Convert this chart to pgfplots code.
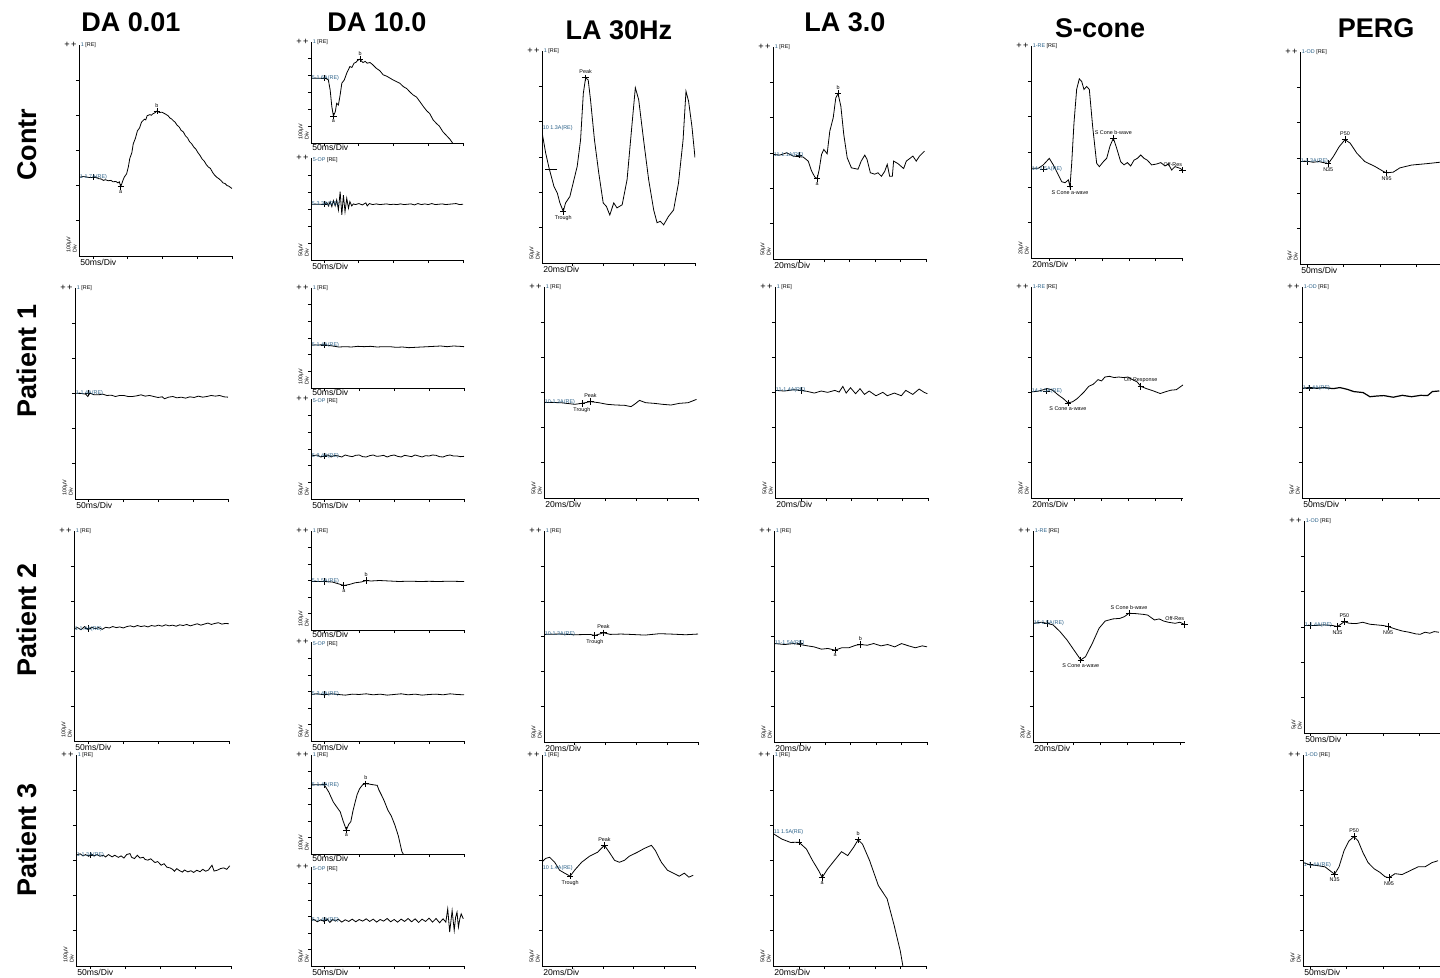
\documentclass[border=0pt]{standalone}
\usepackage{fontspec}
\setmainfont{Liberation Sans}
\usepackage{pgfplots}
\pgfplotsset{compat=1.18}
\newdimen\pxu \pxu=0.5pt
\newcommand\fT{\fontsize{2.7pt}{3.1pt}\selectfont}
\newcommand\fX{\fontsize{4.3pt}{5pt}\selectfont}
\newcommand\fP{\fontsize{4.6pt}{5pt}\selectfont}
\newcommand\fH{\fontsize{13.5pt}{16pt}\selectfont\bfseries}
\definecolor{lblue}{RGB}{40,95,135}
\newcommand\setY[2]{%
 \pgfmathsetmacro\yMin{#1}%
 \pgfmathsetmacro\yA{#1+#2}%
 \pgfmathsetmacro\yB{#1+2*#2}%
 \pgfmathsetmacro\yC{#1+3*#2}%
 \pgfmathsetmacro\yD{#1+4*#2}%
 \pgfmathsetmacro\yE{#1+5*#2}%
 \pgfmathsetmacro\yMax{#1+6*#2}}
\pgfplotsset{
 erg/.style n args={6}{at={(#1*\pxu,-#2*\pxu)}, width=#3*\pxu, height=#4*\pxu, xmin=#5, xmax=#6,
  anchor=south west, scale only axis, axis lines=left,
  axis line style={-, line width=0.45pt, black},
  tick style={black, line width=0.4pt}, tick align=outside, major tick length=1.6pt,
  xticklabel=\empty, yticklabel=\empty, clip mode=individual,
  ymin=\yMin, ymax=\yMax, ytick={\yA,\yB,\yC,\yD,\yE}},
 gdeco/.style n args={5}{extra description/.code={
  \node[font=\fP, anchor=east, inner sep=0pt] at ([xshift=-2*\pxu]rel axis cs:0,1) {+\,+};
  \node[font=\fT, anchor=west, inner sep=0pt] at ([xshift=1.5*\pxu,yshift=#4*\pxu]rel axis cs:0,1) {#1};
  \node[font=\fT, anchor=south west, inner sep=0pt, rotate=90, align=left] at ([xshift=-2*\pxu,yshift=3*\pxu]rel axis cs:0,0) {#2\\Div};
  \node[font=\fX, anchor=north west, inner sep=0pt] at ([xshift=1*\pxu,yshift=#5*\pxu]rel axis cs:0,0) {#3};
 }},
 deco/.style n args={3}{gdeco={#1}{#2}{#3}{0}{-3}},
 decoT/.style n args={3}{gdeco={#1}{#2}{#3}{0}{-0.8}},
 decoB/.style n args={3}{gdeco={#1}{#2}{#3}{-2}{-3}},
 tr/.style={black, line width=0.4pt, mark=none},
}
\newcommand\mk[2]{\addplot[only marks, mark=+, mark size=1.6pt, black, mark options={line width=0.35pt}] coordinates {(#1,#2)};}
\newcommand\ab[3]{\node[font=\fT, anchor=south, inner sep=0pt] at ([yshift=3.5*\pxu]axis cs:#1,#2) {#3};}
\newcommand\be[3]{\node[font=\fT, anchor=north, inner sep=0pt] at ([yshift=-3.5*\pxu]axis cs:#1,#2) {#3};}
\newcommand\bl[3]{\node[font=\fT, text=lblue, anchor=west, inner sep=0pt] at ([xshift=0.5*\pxu]axis cs:#1,#2) {#3};}
\newcommand\rl[3]{\node[font=\fT, anchor=south east, inner sep=0pt] at ([yshift=3*\pxu]axis cs:#1,#2) {#3};}
\newcommand\ch[1]{{\color{lblue}#1}}

\begin{document}
\begin{tikzpicture}
\useasboundingbox (0,0) rectangle (1440*\pxu,-978*\pxu);
% titles
\node[font=\fH] at (131*\pxu,-22*\pxu) {DA 0.01};
\node[font=\fH] at (377*\pxu,-22*\pxu) {DA 10.0};
\node[font=\fH] at (619*\pxu,-30*\pxu) {LA 30Hz};
\node[font=\fH] at (845*\pxu,-22*\pxu) {LA 3.0};
\node[font=\fH] at (1100*\pxu,-28*\pxu) {S-cone};
\node[font=\fH] at (1376*\pxu,-28*\pxu) {PERG};
\node[font=\fH, rotate=90] at (27*\pxu,-145*\pxu) {Contr};
\node[font=\fH, rotate=90] at (27*\pxu,-361*\pxu) {Patient 1};
\node[font=\fH, rotate=90] at (27*\pxu,-620*\pxu) {Patient 2};
\node[font=\fH, rotate=90] at (27*\pxu,-840*\pxu) {Patient 3};

%================ ROW 1 (Contr) ================
\setY{-224}{100}
\begin{axis}[erg={79}{256}{153}{211}{-20}{200}, xtick={0,50,100,150,200}, deco={\ch{1} [RE]}{100µV}{50ms/Div}]
\addplot[tr] coordinates {(-19,0)(-14,2)(-10,1)(-5,-1)(0.5,-1)(4,1)(8,-4)(12,-5)(15,-9)(18,-7)(22,-10)(26,-9)(29,-13)(33,-12)(36,-16)(38,-13)(40,-27)(43,-10)(45,0)(48.5,10)(51,30)(53,53)(56,70)(58,95)(61,110)(64,132)(67,140)(70,157)(74,165)(76,163)(78,175)(82,178)(84,176)(86,180)(89,183)(92,188)(96,184)(99,185)(104,180)(108,175)(111,168)(113,166)(116,160)(118,157)(121,148)(124,143)(127,133)(130,129)(133,118)(136,112)(139,101)(142,95)(145,86)(148,80)(151,70)(154,62)(157,52)(160,46)(163,36)(166,29)(169,25)(172,14)(175,6)(178,0)(181,-4)(184,-9)(187,-16)(190,-18)(193,-24)(195,-25)(200,-32)};
\mk{0}{0}\mk{40}{-27}\mk{92}{188}
\be{40}{-27}{a}\ab{92}{188}{b}\bl{-20}{0}{1-1.7A(RE)}
\end{axis}

\setY{-385}{100}
\begin{axis}[erg={311}{143}{152}{101}{-19}{200}, xtick={0,50,100,150,200}, decoT={\ch{1} [RE]}{100µV}{50ms/Div}]
\addplot[tr] coordinates {(-19,0)(1.4,0)(6,-10)(8.6,-70)(11,-169)(13.3,-225)(16,-199)(18,-149)(20.5,-159)(23,-99)(25.4,-30)(29,-10)(32.5,30)(37,69)(40,64)(43,89)(46,95)(48,105)(51.6,113)(54,100)(56,93)(59,100)(62,89)(66,93)(70,80)(75,59)(80,45)(85,20)(90,12)(95,0)(99,-10)(104,-20)(109,-30)(114,-50)(119,-62)(124,-84)(128,-99)(133,-112)(138,-140)(143,-169)(148,-195)(152,-210)(157,-248)(162,-270)(166,-285)(171,-318)(176,-340)(181,-362)(185,-385)};
\mk{0}{0}\mk{13.3}{-225}\mk{51.6}{113}
\be{13.3}{-225}{a}\ab{51.6}{113}{b}\bl{-19}{0}{5-1.6A(RE)}
\end{axis}

\setY{-164}{50}
\begin{axis}[erg={311}{260}{152}{102}{-19}{200}, xtick={0,50,100,150,200}, decoB={\ch{5-OP} [RE]}{50µV}{50ms/Div}]
\addplot[tr] coordinates {(-19,0)(-1,0)(3.8,4.7)(6.2,-5)(8.6,7.8)(11,-7)(13.3,10.6)(15.8,-5)(18,12.7)(20.5,-16.7)(23,37)(25.4,-31)(27.7,27)(30,-22)(32.5,17.6)(35,-11.8)(37,7.8)(39.7,-5)(42,1)(45,-1)(50,2)(55,-2)(60,4)(62,-5)(65,2)(70,-1)(75,1)(80,-1)(85,0)(90,1)(95,-1)(100,0)(105,-1)(110,1)(115,-1)(120,0)(125,1)(130,-2)(135,2)(140,-1)(145,1)(150,-1)(155,2)(160,-1)(165,0)(170,1)(175,-1)(180,0)(185,1)(190,2)(195,-1)(200,0)};
\mk{0}{0}\bl{-19}{0}{5-3.3A(RE)}
\end{axis}

\setY{-132}{50}
\begin{axis}[erg={542}{263}{153}{212}{-20}{80}, xtick={0,20,40,60,80}, deco={\ch{1} [RE]}{50µV}{20ms/Div}]
\addplot[tr] coordinates {(-19.7,49.6)(-17.6,23.6)(-15.4,2.4)(-12.2,-23.6)(-10,-33)(-8.3,-47)(-6.1,-59)(-4.6,-47)(-1.8,-38)(0.9,-14)(3,4.7)(5.2,42)(7,108)(8.5,130)(10.2,127)(11.7,99)(14.3,42)(17.1,-4.7)(20,-47)(22.1,-52)(24.3,-64)(26.9,-47)(29,-54)(32.4,-49.6)(35.6,-14)(38.9,66)(41,116)(43.2,99)(46.4,42)(49.7,-14)(53,-57)(55.2,-75)(57.3,-73)(59.5,-78)(62.7,-66)(66,-57)(69.2,-19)(72.2,42)(74.1,111)(75.8,97)(78,61)(80,17)};
\addplot[only marks, mark=-, mark size=3pt, black, mark options={line width=0.35pt}] coordinates {(-14,0)};
\mk{8.5}{130}\mk{-6.1}{-59}
\ab{8.5}{130}{Peak}\be{-6.1}{-59}{Trough}\bl{-20}{59.5}{10 1.3A(RE)}
\end{axis}

\setY{-147}{50}
\begin{axis}[erg={773}{259}{153}{212}{-20.4}{100}, xtick={0,20,40,60,80,100}, deco={\ch{1} [RE]}{50µV}{20ms/Div}]
\addplot[tr] coordinates {(-20,1)(-15,0)(-9.7,3.3)(-4.5,-1.4)(3.4,-2.8)(7.3,-8.5)(10,-22.7)(12.5,-31)(14.4,-33)(16,-20)(17.8,1)(19.6,8)(22.2,1.8)(24.3,34)(27,53)(29,81)(30.8,87)(33,69)(35.3,29)(38,-3.8)(41.3,-18)(46.5,-20)(49,-8.5)(51.8,0)(53.6,-6)(56.2,-25)(59.6,-27)(62.2,-25)(64.9,-30)(67.5,-23)(69.5,-13)(71.4,-30)(73.5,-30)(74.5,-8.5)(77.9,-12)(82.4,-19)(84.5,-8.5)(89.7,-1.4)(92.3,-8.5)(94.9,-1.4)(98.8,5.7)};
\mk{0}{0}\mk{14.4}{-33}\mk{30.8}{87}
\be{14.4}{-33}{a}\ab{30.8}{87}{b}\bl{-20.4}{0}{11-1.1A(RE)}
\end{axis}

\setY{-50.4}{20}
\begin{axis}[erg={1031}{258}{152}{212}{-13.5}{100.4}, xtick={0,20,40,60,80,100}, deco={\ch{1-RE} [RE]}{20µV}{20ms/Div}]
\addplot[tr] coordinates {(-13,0.4)(-8,0.4)(-4.3,2.3)(0.2,6)(3.2,2.3)(7,-3.4)(9.5,-7.2)(12,-7.8)(14.5,-6.2)(15.7,-10)(17,3.2)(18.7,26)(20.7,45)(22.7,51)(24.5,49.5)(26.2,45)(28.2,46.7)(30.2,45)(32.7,24)(35.7,3.2)(37.7,1.3)(40.7,4.1)(43.2,6)(45.7,13)(48.2,17.4)(50.7,11.7)(53.7,4.1)(56.2,2.3)(58.7,3.6)(61.2,1.7)(63.7,5)(66.2,6)(68.7,7.9)(71.2,6)(73.6,5)(76.9,2.3)(80.7,2.8)(83.7,3.6)(86.9,1.7)(89.4,2.8)(91.9,-0.6)(94.4,1.3)(98.1,0.4)(100,-0.6)};
\mk{-4}{0}\mk{15.7}{-10}\mk{48.2}{17.4}\mk{100}{-0.6}
\be{15.7}{-10}{S Cone a-wave}\ab{48.2}{17.4}{S Cone b-wave}\rl{100}{-0.6}{Off-Res}\bl{-13.5}{0}{14-1.5A(RE)}
\end{axis}

\setY{-14.5}{5}
\begin{axis}[erg={1300}{264}{140}{212}{-9.6}{182}, xtick={0,50,100,150}, deco={\ch{1-OD} [RE]}{5µV}{50ms/Div}]
\addplot[tr] coordinates {(-8.6,0)(0,0.05)(8.6,-0.1)(16,0)(24.7,-0.2)(29,-0.3)(36,0.7)(44,2.1)(52,3.1)(59,2.6)(68,1.2)(79,0)(93,-0.7)(104.5,-1.4)(109,-1.6)(118,-1.5)(127,-0.9)(143,-0.5)(164,-0.3)(182,-0.1)};
\mk{0}{0}\mk{29}{-0.3}\mk{52}{3.1}\mk{109}{-1.6}
\be{29}{-0.3}{N35}\ab{52}{3.1}{P50}\be{109}{-1.6}{N95}\bl{-9.6}{0}{1-1.3A(RE)}
\end{axis}

%================ ROW 2 (Patient 1) ================
\setY{-301}{100}
\begin{axis}[erg={75}{499}{153}{211}{-19}{200}, xtick={0,50,100,150,200}, deco={\ch{1} [RE]}{100µV}{50ms/Div}]
\addplot[tr] coordinates {(-19,0)(-9.8,-1)(-3.7,-2.8)(-0.7,-9.5)(2.4,0)(8.5,-4.7)(14.5,-4.7)(20.7,-2.8)(26.7,-6.6)(32.8,-5.7)(38.9,-9.5)(45,-6.6)(51,-6.6)(57,-9.5)(63.3,-9.5)(69.4,-7.6)(75.5,-4.7)(81.5,-8.5)(87.6,-6.6)(93.7,-9.5)(99.8,-12.3)(105.9,-10.4)(109,-16)(115,-11.4)(121,-9.5)(127,-13.3)(133,-11.4)(139.4,-14.2)(145.4,-10.4)(151.5,-12.3)(157.6,-8.5)(163.7,-11.4)(169.8,-9.5)(175.9,-6.6)(182,-8.5)(188,-6.6)(194,-10.4)(200,-11.4)};
\mk{0}{0}\bl{-19}{0}{1-1.4A(RE)}
\end{axis}

\setY{-258}{100}
\begin{axis}[erg={311}{388}{153}{100}{-19}{200}, xtick={0,50,100,150,200}, decoT={\ch{1} [RE]}{100µV}{50ms/Div}]
\addplot[tr] coordinates {(-19,0)(-9.3,0)(0,2)(5.7,-2)(11.9,-6)(21,-12)(30,-10)(39,-12)(48,-8)(57,-10)(66.5,-8)(75.6,-12)(84.7,-10)(93.8,-10)(103,-14)(112,-12)(121,-16)(130,-14)(139.4,-12)(148.5,-10)(157.6,-8)(166.7,-6)(175.8,-10)(184.9,-6)(194,-8)(200,-10)};
\mk{0}{0}\bl{-19}{0}{5-1.4A(RE)}
\end{axis}

\setY{-129}{50}
\begin{axis}[erg={311}{499}{153}{100}{-19}{200}, xtick={0,50,100,150,200}, decoB={\ch{5-OP} [RE]}{50µV}{50ms/Div}]
\addplot[tr] coordinates {(-19,0)(-10,3)(-5,-3)(0,0)(5,3)(10,-3)(15,2)(20,0)(25,-3)(30,3)(35,0)(40,-2)(45,2)(50,3)(55,-2)(60,-3)(65,1)(70,3)(75,-1)(80,0)(85,2)(90,-3)(95,1)(100,3)(105,-1)(110,-3)(115,2)(120,0)(125,-2)(130,3)(135,0)(140,-3)(145,1)(150,0)(155,3)(160,2)(165,-2)(170,-3)(175,1)(180,3)(185,0)(190,0)(195,-2)(200,-1)};
\mk{0}{0}\bl{-19}{0}{5-3.4A(RE)}
\end{axis}

\setY{-136}{50}
\begin{axis}[erg={544}{498}{154}{211}{-20}{80}, xtick={0,20,40,60,80}, deco={\ch{1} [RE]}{50µV}{20ms/Div}]
\addplot[tr] coordinates {(-19.4,0)(-9,-0.5)(0,-2.8)(4.6,-1.4)(10.2,1)(15.6,-0.5)(21,-2.8)(26.7,-3.8)(32.3,-4.2)(36.5,-6.1)(39,-2.4)(42,2.8)(46,-0.5)(51.5,-1.4)(57,-2.8)(62.5,-3.8)(68,-1.4)(73.6,-0.5)(79,4.2)};
\mk{4.6}{-1.4}\mk{10.2}{1}
\be{4.6}{-1.4}{Trough}\ab{10.2}{1}{Peak}\bl{-20}{0}{10-1.3A(RE)}
\end{axis}

\setY{-153}{50}
\begin{axis}[erg={775}{498}{153}{211}{-20.4}{100}, xtick={0,20,40,60,80,100}, deco={\ch{1} [RE]}{50µV}{20ms/Div}]
\addplot[tr] coordinates {(-20,0)(-13,-0.9)(-5.7,0.9)(0,0)(5,-1.4)(10.5,-3.8)(16,-0.9)(21,-2.8)(26.7,0)(30,-2.4)(33,5.7)(35.6,-3.8)(39,3.8)(43,-4.7)(46.5,2.4)(50,-5.7)(53.7,-0.9)(59,-7.6)(64.5,-2.8)(68,-7.6)(73.5,-3.8)(79,-7.6)(82.5,0)(88,-5.7)(93,1.9)(97,-2.8)(99.5,-4.7)};
\mk{0}{0}\bl{-20.4}{0}{11-1.4A(RE)}
\end{axis}

\setY{-60.7}{20}
\begin{axis}[erg={1031}{498}{152}{211}{-12.7}{101}, xtick={0,20,40,60,80,100}, deco={\ch{1-RE} [RE]}{20µV}{20ms/Div}]
\addplot[tr] coordinates {(-12.7,-0.4)(-7.5,0)(-0.6,1.5)(2.9,0.9)(8,-2.3)(11.5,-4.2)(14.9,-6.6)(18.4,-6)(21.8,-4.2)(27,-0.4)(30.5,2.8)(33.9,4)(37.4,6.6)(40.1,5.9)(42.6,8.1)(46,8.5)(49.4,7.8)(52.9,8.1)(56.3,7.8)(59.8,8.1)(63.2,6.6)(66.7,5.3)(69.4,2.8)(73.6,1.5)(78.8,0.2)(84,-1.3)(87.4,-0.4)(91.9,0.6)(96,0.9)(99.5,2.8)(101,3.6)};
\mk{-1}{0}\mk{14.9}{-6.6}\mk{69.4}{2.8}
\be{14.9}{-6.6}{S Cone a-wave}\ab{69.4}{2.8}{Off-Response}\bl{-12.7}{0}{14-1.5A(RE)}
\end{axis}

\setY{-15.6}{5}
\begin{axis}[erg={1302}{498}{138}{211}{-10}{179}, xtick={0,50,100,150}, deco={\ch{1-OD} [RE]}{5µV}{50ms/Div}]
\addplot[black, line width=0.6pt] coordinates {(-9.6,0)(1.2,0.1)(10,0)(20,0.1)(32.7,-0.05)(42,0.1)(51.6,-0.14)(61,-0.47)(73.7,-0.61)(83,-1.2)(92.5,-1.1)(102,-1.04)(115,-1.27)(127.4,-1)(140,-1.2)(152.7,-1)(162,-1.04)(168.5,-0.47)(178,-0.38)};
\mk{0}{0}\bl{-10}{0}{1-1.4A(RE)}
\end{axis}

%================ ROW 3 (Patient 2) ================
\setY{-321}{100}
\begin{axis}[erg={74}{741}{155}{210}{-20}{200}, xtick={0,50,100,150,200}, deco={\ch{1} [RE]}{100µV}{50ms/Div}]
\addplot[tr] coordinates {(-20,0)(-15,3)(-10,-3)(-5,6)(0,-3)(5,4)(10,0)(15,3)(20,-2)(25,4)(30,2)(35,6)(40,3)(45,5)(50,2)(55,6)(60,8)(65,5)(70,9)(75,6)(80,8)(85,5)(90,9)(95,7)(100,10)(105,7)(110,11)(115,8)(120,10)(125,7)(130,11)(135,9)(140,12)(145,8)(150,11)(155,14)(160,10)(165,13)(170,16)(175,12)(180,15)(185,17)(190,13)(195,15)(200,14)};
\mk{0}{0}\bl{-20}{0}{1-1.4A(RE)}
\end{axis}

\setY{-294}{100}
\begin{axis}[erg={311}{630}{153}{99}{-19}{200}, xtick={0,50,100,150,200}, decoT={\ch{1} [RE]}{100µV}{50ms/Div}]
\addplot[tr] coordinates {(-19,0)(0,0)(11.5,-3)(18.6,-12)(28,-24)(36,-18)(44,-8)(53,-3)(60,6)(67,3)(79,6)(93,3)(107,0)(122,2)(136,0)(150,1)(165,0)(179,2)(196,0)(200,0)};
\mk{0}{0}\mk{28}{-24}\mk{60}{6}
\be{28}{-24}{a}\ab{60}{6}{b}\bl{-19}{0}{5-1.5A(RE)}
\end{axis}

\setY{-141}{50}
\begin{axis}[erg={311}{741}{153}{99}{-19}{200}, xtick={0,50,100,150,200}, decoB={\ch{5-OP} [RE]}{50µV}{50ms/Div}]
\addplot[tr] coordinates {(-19,0)(-10,2)(0,-1)(10,2)(20,0)(30,-2)(40,1)(50,0)(60,2)(70,-1)(80,1)(90,-2)(100,0)(110,2)(120,-1)(130,1)(140,-2)(150,0)(160,1)(170,-1)(180,2)(190,0)(200,-1)};
\mk{0}{0}\bl{-19}{0}{5-3.4A(RE)}
\end{axis}

\setY{-153}{50}
\begin{axis}[erg={544}{742}{154}{211}{-20}{80}, xtick={0,20,40,60,80}, deco={\ch{1} [RE]}{50µV}{20ms/Div}]
\addplot[tr] coordinates {(-20,0)(-10,0.5)(0,-0.5)(10,0)(13,-1.5)(16,0.5)(18.6,2.4)(23,0)(30,0.5)(36,0)(45.6,-1)(55,1)(62,0.5)(72,-0.5)(80,0.5)};
\mk{13}{-1.5}\mk{18.6}{2.4}
\be{13}{-1.5}{Trough}\ab{18.6}{2.4}{Peak}\bl{-20}{0}{10-1.3A(RE)}
\end{axis}

\setY{-140}{50}
\begin{axis}[erg={774}{742}{153}{211}{-20.4}{100}, xtick={0,20,40,60,80,100}, deco={\ch{1} [RE]}{50µV}{20ms/Div}]
\addplot[tr] coordinates {(-20,0)(-12,-1.4)(-5,0)(0,-1.4)(6,-3.3)(11,-4.7)(17,-8)(22,-7)(27.6,-9.4)(33,-6)(38.5,-6)(44,-2.4)(47.5,-1.4)(53,-2.4)(58,0)(63.8,-3.3)(69,-1.4)(74.6,-4.7)(80,0)(85.5,-3.3)(90.8,-6)(96.3,-3.3)(100,-4.7)};
\mk{0}{0}\mk{27.6}{-9.4}\mk{47.5}{-1.4}
\be{27.6}{-9.4}{a}\ab{47.5}{-1.4}{b}\bl{-20.4}{0}{11-1.5A(RE)}
\end{axis}

\setY{-67.5}{20}
\begin{axis}[erg={1033}{742}{152}{211}{-10.5}{103.4}, xtick={0,20,40,60,80,100}, deco={\ch{1-RE} [RE]}{20µV}{20ms/Div}]
\addplot[tr] coordinates {(-10.5,0)(-4,0.6)(0,0)(4.5,-0.9)(9.7,-4.7)(15,-9.5)(20,-15)(25.3,-20.8)(28.8,-19)(34,-11.3)(39,-2.8)(43.6,1.3)(49.4,2.5)(54.6,2.8)(58,3.8)(61.4,5.7)(66.7,5.5)(72,5.1)(75.4,4.7)(80.5,1.9)(84,2.5)(87.4,1.3)(90.9,0.6)(96,0)(99.5,0.6)(102.9,-0.6)};
\mk{0}{0}\mk{25.3}{-20.8}\mk{61.4}{5.7}\mk{102.9}{-0.6}
\be{25.3}{-20.8}{S Cone a-wave}\ab{61.4}{5.7}{S Cone b-wave}\rl{102.9}{-0.6}{Off-Res}\bl{-10.5}{0}{16-1.5A(RE)}
\end{axis}

\setY{-15.2}{5}
\begin{axis}[erg={1304}{733}{136}{212}{-8.2}{178}, xtick={0,50,100,150}, deco={\ch{1-OD} [RE]}{5µV}{50ms/Div}]
\addplot[tr] coordinates {(-7.8,0)(6.2,0)(18.8,0.1)(31.4,0)(37.7,-0.14)(44,0.33)(47,0.57)(53.4,0.33)(63,0.28)(72.3,0.47)(82,0.19)(91.4,0.1)(100.8,0)(107,-0.14)(116.4,-0.47)(126,-0.76)(135.6,-0.94)(145,-1.18)(151,-1.23)(157.5,-0.94)(164,-1.08)(170,-0.85)(176.6,-0.94)};
\mk{0}{0}\mk{37.7}{-0.14}\mk{47}{0.57}\mk{107}{-0.14}
\be{37.7}{-0.14}{N35}\ab{47}{0.57}{P50}\be{107}{-0.14}{N95}\bl{-8.2}{0}{1-1.4A(RE)}
\end{axis}

%================ ROW 4 (Patient 3) ================
\setY{-315}{100}
\begin{axis}[erg={76}{966}{155}{211}{-20}{200}, xtick={0,50,100,150,200}, deco={\ch{1} [RE]}{100µV}{50ms/Div}]
\addplot[tr] coordinates {(-20,0)(-14,4)(-10,-2)(-6.6,1.9)(-2,-3)(2,3)(6,-1.9)(10,2)(14,-3)(18.7,0)(22,-5)(26,2)(31.3,-4.7)(35,0)(40,-6)(44,-1.9)(48,-8)(52,2)(56.6,4.7)(59,-6)(63,-9.5)(67,0)(71,-8)(75.6,-5.7)(78,-12)(81.9,-14)(86,-10)(92,-20.8)(96,-18)(100.9,-28.4)(105,-24)(109,-34)(113.5,-36)(117,-40)(119.8,-45.5)(123,-38)(126,-42.6)(131,-48)(134,-42)(138.8,-47.3)(143,-44)(147,-49)(151.4,-42.6)(156,-47)(160,-40)(164,-45.5)(168,-42)(173,-28.4)(176,-45)(180.6,-42.6)(185,-38)(189.5,-36)(194,-40)(198.3,-30)};
\mk{0}{0}\bl{-20}{0}{1-1.3A(RE)}
\end{axis}

\setY{-420}{100}
\begin{axis}[erg={311}{854}{153}{99}{-19}{200}, xtick={0,50,100,150,200}, decoT={\ch{1} [RE]}{100µV}{50ms/Div}]
\addplot[tr] coordinates {(-19,0)(0,0)(6.4,-44)(12.8,-104)(17,-130)(22.8,-164)(27,-220)(31.6,-274)(35,-240)(38,-224)(41,-160)(44.3,-104)(47,-60)(50.6,-24)(55,0)(59.4,6)(64,4)(69.5,0)(75.8,-4)(78,-30)(82,-64)(86,-100)(91,-154)(96,-190)(101,-244)(106,-310)(111,-404)(113,-420)};
\mk{0}{0}\mk{31.6}{-274}\mk{59.4}{6}
\be{31.6}{-274}{a}\ab{59.4}{6}{b}\bl{-19}{0}{5-1.4A(RE)}
\end{axis}

\setY{-138}{50}
\begin{axis}[erg={311}{966}{153}{99}{-19}{200}, xtick={0,50,100,150,200}, decoB={\ch{5-OP} [RE]}{50µV}{50ms/Div}]
\addplot[tr] coordinates {(-19,0)(-15,3)(-10,-4)(-5,2)(0,-3)(4,5)(8,-6)(12,3)(16,-2)(20,4)(25,-5)(30,2)(35,-3)(40,4)(45,-4)(50,3)(55,-2)(60,5)(65,-3)(70,4)(75,-5)(80,3)(85,-2)(90,6)(95,-4)(100,3)(105,-5)(110,4)(115,-3)(120,6)(125,-4)(130,5)(135,-6)(140,4)(145,-3)(150,7)(155,-5)(160,6)(165,-7)(170,5)(174,-5)(176.7,35)(179.5,-35)(183,30)(186,-30)(188,10)(190,25)(192,-20)(194,5)(196,20)(199,5)};
\mk{0}{0}\bl{-19}{0}{5-3.4A(RE)}
\end{axis}

\setY{-139}{50}
\begin{axis}[erg={542}{966}{153}{211}{-20}{80}, xtick={0,20,40,60,80}, deco={\ch{1} [RE]}{50µV}{20ms/Div}]
\addplot[tr] coordinates {(-20,8.9)(-17.6,14)(-15,15.6)(-11.7,8.5)(-8.5,-2.8)(-5.2,-7)(-1.6,-11.3)(1.3,-2.8)(5.9,8.5)(11,17)(16.3,22.7)(20.8,32.6)(24,22.7)(27.4,11.3)(30.6,8.5)(33.9,11.3)(37,17)(42.3,22.7)(47,28.3)(51.5,32.6)(54,25.5)(58,8.5)(62,-2.8)(65.8,-7)(69.7,-11.3)(73,-7)(76,-12.7)(78.8,-10)};
\mk{-1.6}{-11.3}\mk{20.8}{32.6}
\be{-1.6}{-11.3}{Trough}\ab{20.8}{32.6}{Peak}\bl{-20}{0}{10 1.4A(RE)}
\end{axis}

\setY{-188}{50}
\begin{axis}[erg={773}{966}{153}{211}{-20.4}{100}, xtick={0,20,40,60,80,100}, deco={\ch{1} [RE]}{50µV}{20ms/Div}]
\addplot[tr] coordinates {(-20,0)(-13.5,-7.5)(-6.6,-12.3)(0,-12)(5.9,-21.7)(10.7,-38)(15.5,-52.4)(18.3,-62)(22.4,-50.5)(27.9,-38)(33.5,-25.5)(38.4,-31)(43.1,-19)(46.6,-8.5)(50,-14.6)(55.6,-38)(62.5,-73.6)(69.4,-92.5)(74.9,-130)(79.8,-167)(81.8,-188)};
\mk{0}{-12}\mk{18.3}{-62}\mk{46.6}{-8.5}
\be{18.3}{-62}{a}\ab{46.6}{-8.5}{b}\bl{-20.4}{3}{11 1.5A(RE)}
\end{axis}

\setY{-14.4}{5}
\begin{axis}[erg={1303}{966}{137}{211}{-9.6}{178}, xtick={0,50,100,150}, deco={\ch{1-OD} [RE]}{5µV}{50ms/Div}]
\addplot[tr] coordinates {(-9.6,0.3)(0,0)(11,-0.14)(20.5,-0.3)(27.4,-0.85)(33.7,-1.35)(39.7,-0.3)(46.6,2)(53.4,3.4)(60.3,4)(65.8,3.4)(72.6,1.7)(79.5,0.3)(87.7,-0.57)(95.9,-1.1)(102.7,-1.7)(108.2,-1.84)(116.4,-1.27)(126,-1.4)(137,-0.85)(148,-0.3)(157.5,-0.3)(167,0.3)(175.3,0.57)};
\mk{0}{0}\mk{33.7}{-1.35}\mk{60.3}{4}\mk{108.2}{-1.84}
\be{33.7}{-1.35}{N35}\ab{60.3}{4}{P50}\be{108.2}{-1.84}{N95}\bl{-9.6}{0}{1-1.4A(RE)}
\end{axis}
\end{tikzpicture}
\end{document}
